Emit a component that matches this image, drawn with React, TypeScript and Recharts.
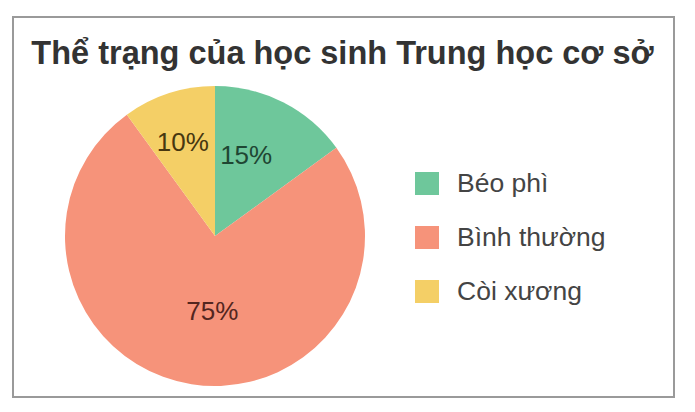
import { PieChart, Pie, Cell, Legend } from "recharts";

const categories = ["Béo phì", "Bình thường", "Còi xương"];
const percents = [15, 75, 10];
const colors = ["#6ec79b", "#f6937a", "#f4cf66"];
const labelColors = ["#1f4633", "#53261f", "#473710"];
const title = "Thể trạng của học sinh Trung học cơ sở";

const data = categories.map((name, i) => ({ name, value: percents[i] }));

const FONT = "'Liberation Sans', Arial, sans-serif";
const RAD = Math.PI / 180;
// label placement tweaks (fraction of radius, angle shift) per slice
const labelRadius = [0.58, 0.5, 0.66];
const labelShift = [6, 7, 1];

function renderLabel(props: any) {
  const { cx, cy, midAngle, outerRadius, index, value } = props;
  const r = outerRadius * labelRadius[index];
  const a = (midAngle + labelShift[index]) * RAD;
  const x = cx + r * Math.cos(-a);
  const y = cy + r * Math.sin(-a);
  return (
    <text
      x={x}
      y={y}
      fill={labelColors[index]}
      textAnchor="middle"
      dominantBaseline="central"
      fontSize={26}
      fontFamily={FONT}
    >
      {`${value}%`}
    </text>
  );
}

function LegendBox() {
  return (
    <div style={{ fontFamily: FONT }}>
      {categories.map((c, i) => (
        <div
          key={c}
          style={{ display: "flex", alignItems: "center", height: 54 }}
        >
          <div
            style={{
              width: 24,
              height: 23,
              background: colors[i],
              marginRight: 18,
            }}
          />
          <span style={{ fontSize: 26.5, color: "#444" }}>{c}</span>
        </div>
      ))}
    </div>
  );
}

export default function App() {
  return (
    <div
      style={{
        position: "absolute",
        left: 0,
        top: 0,
        width: 695,
        height: 412,
        background: "#fff",
      }}
    >
      <div
        style={{
          position: "absolute",
          left: 12,
          top: 16,
          width: 659,
          height: 378,
          border: "2px solid #9a9a9a",
        }}
      />
      <div
        style={{
          position: "absolute",
          left: 12,
          top: 35,
          width: 661,
          textAlign: "center",
          fontFamily: FONT,
          fontWeight: "bold",
          fontSize: 32.5,
          lineHeight: "36px",
          whiteSpace: "nowrap",
          color: "#333",
        }}
      >
        {title}
      </div>
      <div style={{ position: "absolute", left: 0, top: 0 }}>
        <PieChart width={695} height={412}>
          <Pie
            data={data}
            dataKey="value"
            nameKey="name"
            cx={210}
            cy={231}
            outerRadius={150}
            startAngle={90}
            endAngle={-270}
            stroke="none"
            label={renderLabel}
            labelLine={false}
            isAnimationActive={false}
          >
            {data.map((d, i) => (
              <Cell key={d.name} fill={colors[i]} />
            ))}
          </Pie>
          <Legend
            content={() => <LegendBox />}
            wrapperStyle={{ position: "absolute", left: 415, top: 156, width: 250 }}
          />
        </PieChart>
      </div>
    </div>
  );
}
